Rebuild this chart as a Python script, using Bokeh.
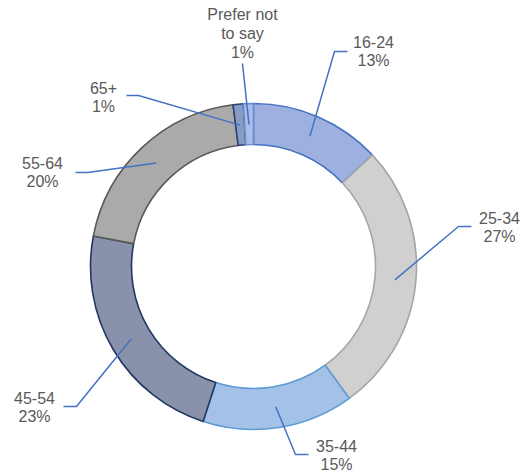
import numpy as np
from bokeh.plotting import figure
from bokeh.models import Range1d, ColumnDataSource
from bokeh.embed import file_html
from bokeh.resources import INLINE
from bokeh.core.properties import value

# ---- data ----
categories = ["16-24", "25-34", "35-44", "45-54", "55-64", "65+", "Prefer not to say"]
label_names = ["16-24", "25-34", "35-44", "45-54", "55-64", "65+", "Prefer not\nto say"]
percents = [13, 27, 15, 23, 20, 1, 1]

# ---- styles ----
fill_colors = ["#9eb0e0", "#d0d0d0", "#a4c2e7", "#8991ab", "#aaaaaa", "#8a9cc4", "#aabde9"]
line_colors = ["#4472c4", "#a5a5a5", "#5b9bd5", "#203864", "#595959", "#264478", "#698ed0"]

# layout (page pixel coordinates; y measured from top)
PAGE_H = 475
CX, CY = 253, 266
R_OUT, R_IN = 163, 122
R_LEADER = 142
label_pos = [(373, 51), (499, 227), (336, 455), (34, 407), (42, 172), (103, 97), (242, 33)]
leader_start = [(347, 51), (471, 226), (308, 454), (63, 406), (75, 172), (126, 95), (242, 63)]
leader_elbow = [(334, 51), (458, 226), (295, 454), (76, 406), (87, 172), (138, 95), (242, 63)]

def fy(py):
    return PAGE_H - py

W, H = 527, 475
p = figure(width=W, height=H, x_range=Range1d(0, W), y_range=Range1d(0, H),
           toolbar_location=None, output_backend="svg", min_border=0)
p.axis.visible = False
p.grid.visible = False
p.outline_line_color = None
p.background_fill_color = "white"

fr = np.array(percents, dtype=float) / sum(percents)
cum = np.concatenate([[0], np.cumsum(fr)])
start = np.pi / 2 - 2 * np.pi * cum[:-1]
end = np.pi / 2 - 2 * np.pi * cum[1:]
mid = (cum[:-1] + cum[1:]) / 2

src = ColumnDataSource(dict(start=start, end=end, fill=fill_colors, line=line_colors))
p.annular_wedge(x=CX, y=fy(CY), inner_radius=R_IN, outer_radius=R_OUT,
                start_angle="start", end_angle="end", direction="clock",
                fill_color="fill", line_color="line", line_width=1.6, source=src)

# leader lines
xs, ys = [], []
for i in range(len(categories)):
    ang = 2 * np.pi * mid[i]
    px = CX + R_LEADER * np.sin(ang)
    py = CY - R_LEADER * np.cos(ang)
    sx, sy = leader_start[i]
    ex, ey = leader_elbow[i]
    xs.append([sx, ex, px])
    ys.append([fy(sy), fy(ey), fy(py)])
p.multi_line(xs=xs, ys=ys, line_color="#4472c4", line_width=1.5)

texts = [f"{n}\n{v}%" for n, v in zip(label_names, percents)]
p.text(x=[lp[0] for lp in label_pos], y=[fy(lp[1]) for lp in label_pos], text=texts,
       text_font=value("Liberation Sans"), text_font_size="16px", text_color="#595959",
       text_align="center", text_baseline="middle", text_line_height=1.1)

open("out.html", "w").write(file_html(p, INLINE))
